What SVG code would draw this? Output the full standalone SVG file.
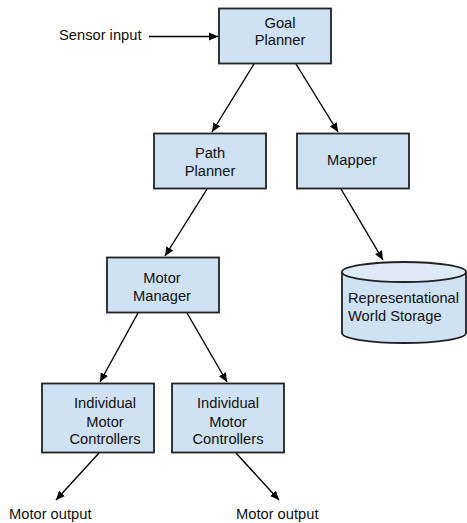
<svg xmlns="http://www.w3.org/2000/svg" width="467" height="523" viewBox="0 0 467 523">
<style>
.box{fill:#cfe2f3;stroke:#222;stroke-width:1.8}
.t{font-family:"Liberation Sans",Arial,sans-serif;font-size:14.7px;fill:#111}
.c{text-anchor:middle}
.e{stroke:#000;stroke-width:1.4;fill:none;marker-end:url(#ah)}
</style>
<defs>
<marker id="ah" viewBox="0 0 10 10" refX="10" refY="5" markerWidth="9" markerHeight="9" markerUnits="userSpaceOnUse" orient="auto">
<path d="M0,0.5 L10,5 L0,9.5 z" fill="#000"/>
</marker>
</defs>
<rect width="467" height="523" fill="#fff"/>
<g id="connectors">
<line class="e" x1="149" y1="36.5" x2="218" y2="36.5"/>
<line class="e" x1="254" y1="64" x2="212" y2="132"/>
<line class="e" x1="296" y1="64" x2="338" y2="132"/>
<line class="e" x1="207" y1="189" x2="165" y2="256"/>
<line class="e" x1="341" y1="189" x2="383" y2="260"/>
<line class="e" x1="138" y1="313" x2="100" y2="382"/>
<line class="e" x1="187" y1="313" x2="227" y2="382"/>
<line class="e" x1="99" y1="453" x2="56" y2="500"/>
<line class="e" x1="236" y1="453" x2="279" y2="500"/>
</g>
<g id="sensor-input"><text class="t" x="59" y="40">Sensor input</text></g>
<g id="goal-planner">
<rect class="box" x="219" y="8.5" width="112" height="55"/>
<text class="t c" x="280" y="28">Goal</text>
<text class="t c" x="280" y="45">Planner</text>
</g>
<g id="path-planner">
<rect class="box" x="154" y="133.5" width="112" height="55"/>
<text class="t c" x="210" y="158">Path</text>
<text class="t c" x="210" y="176">Planner</text>
</g>
<g id="mapper">
<rect class="box" x="297" y="133.5" width="112" height="55"/>
<text class="t c" x="352" y="165">Mapper</text>
</g>
<g id="motor-manager">
<rect class="box" x="107" y="257.5" width="112" height="55"/>
<text class="t c" x="162" y="283">Motor</text>
<text class="t c" x="162" y="301">Manager</text>
</g>
<g id="storage">
<path d="M342,272 L342,333 A62,10 0 0 0 466,333 L466,272" fill="#cfe2f3" stroke="#222" stroke-width="1.8"/>
<ellipse cx="404" cy="272" rx="62" ry="10" fill="#deebf7" stroke="#222" stroke-width="1.8"/>
<text class="t" x="348" y="303">Representational</text>
<text class="t" x="348" y="321">World Storage</text>
</g>
<g id="controllers-1">
<rect class="box" x="42" y="383.5" width="112" height="69"/>
<text class="t c" x="105" y="408">Individual</text>
<text class="t c" x="105" y="427">Motor</text>
<text class="t c" x="105" y="444">Controllers</text>
</g>
<g id="controllers-2">
<rect class="box" x="172" y="383.5" width="112" height="69"/>
<text class="t c" x="228" y="408">Individual</text>
<text class="t c" x="228" y="427">Motor</text>
<text class="t c" x="228" y="444">Controllers</text>
</g>
<g id="motor-output-1"><text class="t" x="9" y="519">Motor output</text></g>
<g id="motor-output-2"><text class="t" x="236" y="519">Motor output</text></g>
</svg>
